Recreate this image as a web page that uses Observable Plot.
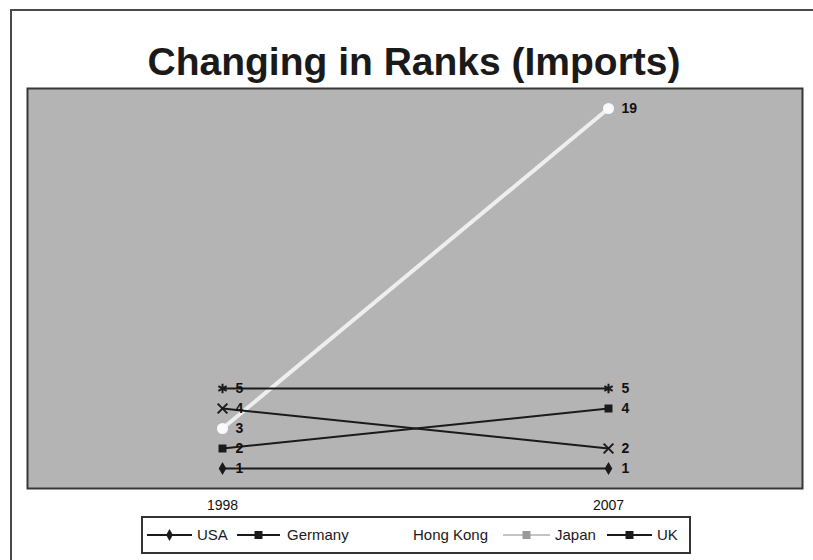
<!DOCTYPE html>
<html><head><meta charset="utf-8">
<script src="https://cdn.jsdelivr.net/npm/d3@7"></script>
<script src="https://cdn.jsdelivr.net/npm/@observablehq/plot@0.6"></script>
<style>
body{margin:0;background:#fff;font-family:Arial,"Liberation Sans",sans-serif;}
#wrap{position:relative;width:813px;height:560px;overflow:hidden;background:#fff;}
#frame{position:absolute;left:10px;top:9px;width:820px;height:560px;border-top:2px solid #4a4a4a;border-left:2px solid #4a4a4a;}
#title{position:absolute;top:42px;left:414px;transform:translateX(-50%);font-size:39px;font-weight:bold;line-height:39px;white-space:nowrap;color:#1a1a1a;letter-spacing:0px;}
#chart{position:absolute;left:0;top:80px;}
#legend{position:absolute;left:141px;top:516px;width:546px;height:34px;border:2px solid #333;background:#fff;}
.li{position:absolute;top:0;height:34px;line-height:34px;font-size:15px;color:#1a1a1a;white-space:nowrap;}
.ls{position:absolute;top:0;}
</style></head>
<body>
<div id="wrap">
  <div id="frame"></div>
  <div id="title">Changing in Ranks (Imports)</div>
  <div id="chart"></div>
  <div id="legend"></div>
</div>
<script>
// ---- data ----
const years = [1998, 2007];
const countries = ["USA", "Germany", "Hong Kong", "Japan", "UK"];
const rank1998 = [1, 2, 3, 4, 5];
const rank2007 = [1, 4, 19, 2, 5];

// ---- styles (kept apart from data) ----
const seriesStyle = {
  "USA":       {line:"#1a1a1a", w:2, symbol:"diamond", fill:"#1a1a1a", stroke:"none", r:4},
  "Germany":   {line:"#1a1a1a", w:2, symbol:"square",  fill:"#1a1a1a", stroke:"none", r:4.5},
  "Hong Kong": {line:"#eeeeee", w:4, symbol:"circle",  fill:"#fafafa", stroke:"none", r:5.5},
  "Japan":     {line:"#1a1a1a", w:2, symbol:"times",   fill:"none",    stroke:"#1a1a1a", r:4.5},
  "UK":        {line:"#1a1a1a", w:2, symbol:"asterisk",fill:"none",    stroke:"#1a1a1a", r:4.5}
};
const legendStyle = {
  "USA":       {line:"#1a1a1a", marker:"diamond", mfill:"#1a1a1a"},
  "Germany":   {line:"#1a1a1a", marker:"square",  mfill:"#1a1a1a"},
  "Hong Kong": {line:"#ffffff", marker:"none",    mfill:"#ffffff"},
  "Japan":     {line:"#c4c4c4", marker:"square",  mfill:"#9a9a9a"},
  "UK":        {line:"#1a1a1a", marker:"square",  mfill:"#1a1a1a"}
};
// legend layout (relative to legend box inner left)
const legendPos = {
  "USA":       {s0:4,   s1:49,  t:54},
  "Germany":   {s0:94,  s1:137, t:144},
  "Hong Kong": {s0:223, s1:265, t:270},
  "Japan":     {s0:360, s1:407, t:412},
  "UK":        {s0:464, s1:509, t:514}
};

const data = countries.flatMap((c, i) => [
  {country: c, year: years[0], rank: rank1998[i]},
  {country: c, year: years[1], rank: rank2007[i]}
]);

const marks = [Plot.frame({fill:"#b4b4b4", stroke:"#383838", strokeWidth:2})];
for (const c of countries) {
  const s = seriesStyle[c];
  const d = data.filter(e => e.country === c);
  marks.push(Plot.line(d, {x:"year", y:"rank", stroke:s.line, strokeWidth:s.w}));
}
for (const c of countries) {
  const s = seriesStyle[c];
  const d = data.filter(e => e.country === c);
  marks.push(Plot.dot(d, {x:"year", y:"rank", symbol:s.symbol, r:s.r, fill:s.fill, stroke:s.stroke, strokeWidth:2}));
  marks.push(Plot.text(d, {x:"year", y:"rank", text:e => String(e.rank), dx:13, textAnchor:"start", fontSize:14, fontWeight:"bold", fill:"#111"}));
}
marks.push(Plot.axisX({ticks: years, tickFormat:"d", tickSize:0, tickPadding:12, fontSize:14, label:null, fill:"#111"}));

const chart = Plot.plot({
  width: 813,
  height: 435,
  marginLeft: 27,
  marginRight: 11,
  marginTop: 8,
  marginBottom: 27,
  x: {domain: years, type:"linear", range:[222, 608]},
  y: {domain: [0, 20], axis: null},
  style: {fontFamily:"Arial, 'Liberation Sans', sans-serif", fontSize:"14px", background:"transparent", overflow:"visible"},
  marks
});
document.getElementById("chart").appendChild(chart);

// legend
const leg = document.getElementById("legend");
for (const c of countries) {
  const p = legendPos[c], s = legendStyle[c];
  const w = p.s1 - p.s0;
  const svg = d3.create("svg").attr("class","ls").attr("width", w).attr("height", 34)
    .style("left", p.s0 + "px");
  svg.append("line").attr("x1",0).attr("x2",w).attr("y1",17).attr("y2",17)
    .attr("stroke", s.line).attr("stroke-width", 2);
  if (s.marker === "diamond") {
    svg.append("path").attr("d", d3.symbol(d3.symbolDiamond, 40)()).attr("transform", `translate(${w/2},17)`).attr("fill", s.mfill);
  } else if (s.marker === "square") {
    svg.append("rect").attr("x", w/2-4).attr("y", 13).attr("width", 8).attr("height", 8).attr("fill", s.mfill);
  }
  leg.appendChild(svg.node());
  const t = document.createElement("div");
  t.className = "li";
  t.style.left = p.t + "px";
  t.textContent = c;
  leg.appendChild(t);
}
</script>
</body></html>
